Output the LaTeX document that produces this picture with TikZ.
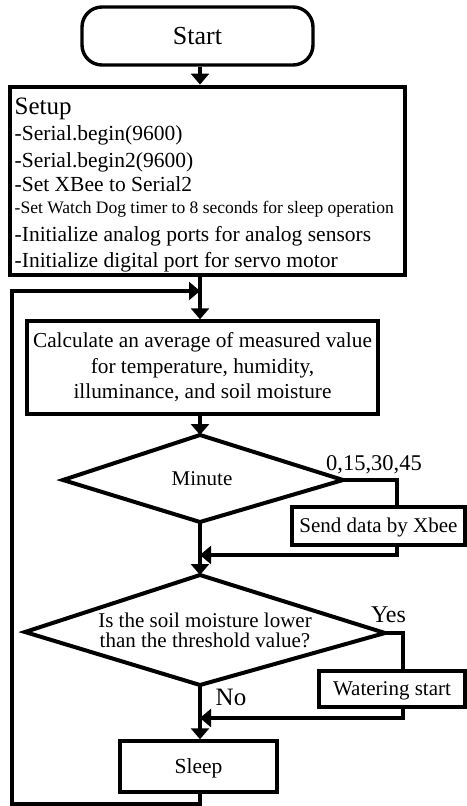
\documentclass[tikz,border=0pt]{standalone}
\usepackage{fontspec}
\setmainfont{Liberation Serif}
\usetikzlibrary{arrows.meta}
% font size / baseline skip in pt
\newcommand\fsz[2]{\fontsize{#1pt}{#2pt}\selectfont}

\begin{document}
\begin{tikzpicture}[x=1pt,y=-1pt,
  box/.style={draw,line width=3.4pt,inner sep=0pt,align=center},
  capc/.style={text height=#1,text depth=0pt},
  flow/.style={line width=3.2pt},
  arr/.style={flow,-{Triangle[width=18pt,length=11pt]}},
  lbl/.style={inner sep=0pt,anchor=base},
  setupline/.style={inner sep=0pt,anchor=base west},
  dia/.style={line width=4pt}]
\useasboundingbox (0,0) rectangle (466,806);
\coordinate (ax) at (200,0);

% start terminal
\node[box,capc=17.2pt,rounded corners=20pt,minimum width=231pt,minimum height=58pt,font=\fsz{26}{26}] (start) at (197.5,36) {Start};

% setup block
\node[draw,line width=4.8pt,inner sep=0pt,minimum width=395pt,minimum height=188pt] (setup) at (207.5,181) {};
\node[setupline,font=\fsz{25}{25}] (su0) at (14.5,114) {Setup};
\node[setupline,font=\fsz{21.5}{21.5}] (su1) at (14.5,140) {-Serial.begin(9600)};
\node[setupline,font=\fsz{21.5}{21.5}] (su2) at (14.5,167) {-Serial.begin2(9600)};
\node[setupline,font=\fsz{21.5}{21.5}] (su3) at (14.5,191) {-Set XBee to Serial2};
\node[setupline,font=\fsz{17.5}{17.5}] (su4) at (14.5,213) {-Set Watch Dog timer to 8 seconds for sleep operation};
\node[setupline,font=\fsz{21.5}{21.5}] (su5) at (14.5,241) {-Initialize analog ports for analog sensors};
\node[setupline,font=\fsz{21.5}{21.5}] (su6) at (14.5,267) {-Initialize digital port for servo motor};

% averaging block
\node[box,minimum width=351pt,minimum height=93pt,font=\fsz{21.3}{25.5}] (calc) at (202.5,367.5)
  {Calculate an average of measured value\\for temperature, humidity,\\illuminance, and soil moisture};

% minute decision
\coordinate (d1t) at (200,435);
\coordinate (d1r) at (343,480);
\coordinate (d1b) at (200,522);
\coordinate (d1l) at (63,480);
\draw[dia] (d1t) -- (d1r) -- (d1b) -- (d1l) -- cycle;
\node[inner sep=0pt,capc=13.9pt,font=\fsz{21}{21}] (minute) at (202,479) {Minute};

\node[box,capc=13.9pt,minimum width=173pt,minimum height=38pt,font=\fsz{21}{21}] (send) at (378.5,526) {Send data by Xbee};
\node[lbl,font=\fsz{22.5}{22.5}] (q1) at (374,470) {0,15,30,45};

% soil moisture decision
\coordinate (d2t) at (200,575);
\coordinate (d2r) at (385,633);
\coordinate (d2b) at (200,685);
\coordinate (d2l) at (25,632);
\draw[dia] (d2t) -- (d2r) -- (d2b) -- (d2l) -- cycle;
\node[inner sep=0pt,align=center,font=\fsz{21}{19.5}] (cond) at (205,630.6)
  {Is the soil moisture lower\\than the threshold value?};

\node[box,capc=13.9pt,minimum width=146pt,minimum height=36pt,font=\fsz{21}{21}] (water) at (392,689) {Watering start};
\node[lbl,font=\fsz{24}{24}] (yes) at (388.5,622) {Yes};
\node[lbl,font=\fsz{25}{25}] (no) at (231,705) {No};

% sleep
\node[box,capc=14.2pt,minimum width=157pt,minimum height=51pt,font=\fsz{21.5}{21.5}] (sleep) at (198.5,766.5) {Sleep};

% connectors
\draw[arr] (ax |- start.south) -- (ax |- setup.north);
\draw[arr] (ax |- setup.south) -- (ax |- calc.north);
\coordinate (lb) at (12,804);
\coordinate (lt) at (12,291);
\draw[arr] (ax |- sleep.south) -- (ax |- lb) -- (lb) -- (lt) -- (ax |- lt);
\draw[arr] (ax |- calc.south) -- (d1t);

\coordinate (sx) at (397,0);
\draw[flow] (d1r) -- (sx |- d1r) -- (sx |- send.north);
\coordinate (m1) at (397,555);
\draw[arr] (sx |- send.south) -- (m1) -- (ax |- m1);
\draw[arr] (d1b) -- (d2t);

\coordinate (wx) at (403,0);
\draw[flow] (d2r) -- (wx |- d2r) -- (wx |- water.north);
\coordinate (m2) at (403,718);
\draw[arr] (wx |- water.south) -- (m2) -- (ax |- m2);
\draw[arr] (d2b) -- (ax |- sleep.north);
\end{tikzpicture}
\end{document}
